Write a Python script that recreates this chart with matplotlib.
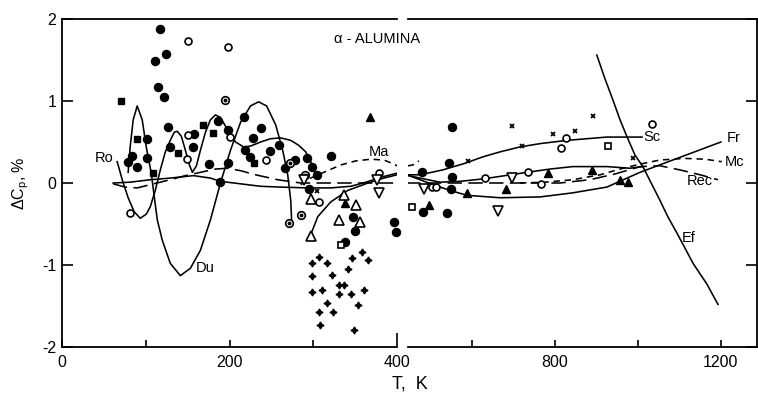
import numpy as np
import matplotlib
matplotlib.use("Agg")
import matplotlib.pyplot as plt
from matplotlib.ticker import FixedLocator, FixedFormatter

plt.rcParams['font.family'] = ['Liberation Sans', 'DejaVu Sans']

# measured points, T in K, deviation in %
fc_T = [117, 124, 111, 115, 122, 127, 101, 83, 79, 89, 102, 129, 158, 176, 186, 198, 198, 189, 156, 217,
        238, 228, 218, 225, 248, 259, 266, 278, 292, 298, 304, 295, 321, 347, 350, 338, 397, 399,
        552, 545, 480, 552, 549, 482, 540]
fc_dC = [1.88, 1.57, 1.49, 1.17, 1.05, 0.68, 0.54, 0.33, 0.26, 0.20, 0.30, 0.44, 0.60, 0.23, 0.76, 0.65, 0.24, 0.01, 0.44, 0.80,
         0.67, 0.55, 0.40, 0.32, 0.39, 0.46, 0.18, 0.28, 0.30, 0.20, 0.10, -0.07, 0.33, -0.41, -0.59, -0.72, -0.48, -0.60,
         0.68, 0.24, 0.13, 0.07, -0.07, -0.35, -0.37]

fs_T = [71, 90, 109, 139, 168, 180, 229]
fs_dC = [1.00, 0.54, 0.12, 0.37, 0.71, 0.61, 0.24]

oc_T = [150, 198, 151, 149, 200, 244, 307, 378, 81, 504, 513, 631, 735, 766, 827, 815, 1034]
oc_dC = [1.73, 1.66, 0.59, 0.29, 0.56, 0.28, -0.23, 0.12, -0.37, -0.05, -0.05, 0.06, 0.13, -0.01, 0.55, 0.43, 0.72]

cd_T = [195, 272, 290, 285, 271]
cd_dC = [1.01, 0.24, 0.10, -0.39, -0.49]

os_T = [333, 455, 928]
os_dC = [-0.75, -0.29, 0.45]

ft_T = [368, 338, 496, 588, 682, 783, 889, 957, 976]
ft_dC = [0.80, -0.24, -0.27, -0.12, -0.07, 0.12, 0.16, 0.04, 0.01]

otu_T = [297, 337, 351, 331, 356, 297]
otu_dC = [-0.20, -0.15, -0.27, -0.45, -0.48, -0.65]

otd_T = [289, 376, 378, 484, 696, 663]
otd_dC = [0.04, 0.04, -0.12, -0.07, 0.06, -0.34]

x_T = [304, 696, 590, 721, 795, 848, 892, 988]
x_dC = [-0.10, 0.70, 0.27, 0.45, 0.60, 0.63, 0.82, 0.30]

st_T = [307, 298, 316, 298, 322, 346, 358, 365, 341, 299, 311, 331, 337, 331, 345, 361, 317, 353, 307, 323, 308, 349]
st_dC = [-0.90, -0.98, -0.98, -1.13, -1.12, -0.91, -0.84, -0.94, -1.05, -1.33, -1.30, -1.24, -1.24, -1.35, -1.35, -1.30,
         -1.46, -1.49, -1.57, -1.57, -1.73, -1.79]

# smoothed curves of the various authors
du_T = [79, 81.4, 85, 89.8, 95.8, 100.6, 106.6, 110.2, 113.8, 119.8, 129.3, 141.3, 153.3, 165.3, 177.2, 189.2,
        201.2, 213.2, 225.1, 234.7, 244.3, 255.1, 263.5, 269.5, 273.1, 274.3]
du_dC = [0.13, 0.44, 0.77, 0.94, 0.77, 0.44, 0.12, -0.17, -0.45, -0.70, -0.98, -1.13, -1.04, -0.82, -0.45, 0.0,
         0.40, 0.74, 0.94, 0.99, 0.94, 0.71, 0.40, 0.10, -0.21, -0.48]

ro_T = [65.9, 71.9, 79.0, 86.2, 93.4, 100.6, 105.4, 111.4, 117.4, 123.4, 129.3, 134.1, 137.7, 142.5, 147.3, 152.1,
        155.7, 160.5, 165.3, 171.3, 177.2, 183.2, 189.2, 197.6, 207.2, 216.8, 225.1, 237.1, 249.1, 261.1, 273.1,
        282.6, 291.0, 297.0, 304.2]
ro_dC = [0.26, 0.04, -0.18, -0.35, -0.43, -0.38, -0.29, -0.09, 0.16, 0.38, 0.52, 0.62, 0.63, 0.57, 0.40, 0.22,
         0.13, 0.21, 0.40, 0.62, 0.77, 0.83, 0.80, 0.65, 0.50, 0.44, 0.45, 0.50, 0.54, 0.55, 0.52,
         0.46, 0.38, 0.26, 0.06]

sc_T = [61.1, 81.4, 105.4, 129.3, 156.9, 177.2, 189.2, 213.2, 237.1, 261.1, 293.4, 321.0, 344.9, 362.9, 380.8, 400,
        448, 475, 530, 583, 627, 668, 716, 764, 829, 925, 1010]
sc_dC = [0.0, 0.01, 0.04, 0.06, 0.09, 0.06, 0.02, -0.01, -0.04, -0.05, -0.06, -0.06, -0.04, 0.01, 0.07, 0.12,
         0.10, 0.10, 0.16, 0.24, 0.32, 0.38, 0.44, 0.48, 0.52, 0.56, 0.56]

mid_T = [448, 475, 523, 571, 627, 680, 733, 788, 843, 925, 981, 1012]
mid_dC = [0.09, 0.06, 0.01, 0.02, 0.05, 0.09, 0.13, 0.17, 0.20, 0.20, 0.18, 0.20]

fr_T = [297, 305.4, 321, 341.3, 365.3, 384.4, 400, 448, 475, 506, 547, 588, 668, 764, 843, 925, 1005, 1084, 1200]
fr_dC = [-0.63, -0.41, -0.23, -0.09, 0.0, 0.06, 0.10, 0.09, 0.04, -0.02, -0.09, -0.15, -0.18, -0.17, -0.12, -0.05,
         0.13, 0.28, 0.50]

ef_T = [901, 920, 940, 957, 974, 993, 1012, 1034, 1053, 1072, 1094, 1113, 1133, 1150, 1166, 1181, 1193]
ef_dC = [1.56, 1.28, 1.01, 0.77, 0.56, 0.34, 0.20, -0.02, -0.21, -0.41, -0.61, -0.79, -0.98, -1.11, -1.23, -1.37, -1.48]

ma_T = [285, 297, 312.6, 332.9, 350.9, 368.9, 384.4, 396.4, 400, 445.7, 457.8, 472.3]
ma_dC = [-0.02, 0.06, 0.13, 0.22, 0.27, 0.29, 0.28, 0.23, 0.21, 0.21, 0.22, 0.27]

rec_T = [61.1, 75.4, 89.8, 105.4, 129.3, 147.3, 165.3, 183.2, 197.6, 213.2, 231.1, 257.5, 285, 321, 400,
         445.7, 667.5, 812, 884, 945, 1005, 1053, 1101, 1150, 1193]
rec_dC = [-0.01, -0.05, -0.06, -0.02, 0.04, 0.09, 0.13, 0.17, 0.18, 0.15, 0.10, 0.04, 0.0, 0.0, 0.0,
          0.0, 0.0, 0.0, 0.04, 0.11, 0.20, 0.21, 0.16, 0.10, 0.04]

mc_T = [716, 776, 843, 909, 957, 1005, 1053, 1113, 1162, 1202]
mc_dC = [0.0, 0.01, 0.04, 0.10, 0.17, 0.23, 0.28, 0.30, 0.29, 0.26]

fig = plt.figure(figsize=(7.58, 3.96), dpi=100)
ax_lo = fig.add_axes([62 / 758, 49 / 396, 335 / 758, 328 / 396])
ax_hi = fig.add_axes([408 / 758, 49 / 396, 349 / 758, 328 / 396])

ax_lo.set_xlim(0, 400)
ax_hi.set_xlim(446, 1287)
for ax in (ax_lo, ax_hi):
    ax.set_ylim(-2, 2)
    for s in ax.spines.values():
        s.set_linewidth(1.3)

ax_lo.spines['right'].set_visible(False)
ax_hi.spines['left'].set_visible(False)


def curve(T, dC, **kw):
    for ax in (ax_lo, ax_hi):
        ax.plot(T, dC, color='black', lw=1.15, zorder=2, **kw)


def points(T, dC, **kw):
    T = np.asarray(T)
    dC = np.asarray(dC)
    lo = T <= 405
    ax_lo.plot(T[lo], dC[lo], ls='none', clip_on=False, zorder=3, **kw)
    ax_hi.plot(T[~lo], dC[~lo], ls='none', clip_on=False, zorder=3, **kw)


curve(du_T, du_dC)
curve(ro_T, ro_dC)
curve(sc_T, sc_dC)
curve(mid_T, mid_dC)
curve(fr_T, fr_dC)
curve(ef_T, ef_dC)
curve(ma_T, ma_dC, ls=(0, (4, 3)))
curve(mc_T, mc_dC, ls=(0, (4, 3)))
curve(rec_T, rec_dC, ls=(0, (9, 4)))

points(fc_T, fc_dC, marker='o', ms=5.8, color='black')
points(fs_T, fs_dC, marker='s', ms=5, color='black')
points(oc_T, oc_dC, marker='o', ms=5, mfc='white', mec='black', mew=1.2)
points(cd_T, cd_dC, marker='o', ms=5.5, mfc='white', mec='black', mew=1.2)
points(cd_T, cd_dC, marker='o', ms=1.8, color='black')
points(os_T, os_dC, marker='s', ms=4.5, mfc='white', mec='black', mew=1.2)
points(ft_T, ft_dC, marker='^', ms=6, color='black')
points(otu_T, otu_dC, marker='^', ms=6.5, mfc='white', mec='black', mew=1.2)
points(otd_T, otd_dC, marker='v', ms=6.5, mfc='white', mec='black', mew=1.2)
points(x_T, x_dC, marker='x', ms=3.5, color='black', mew=1.3)
points(st_T, st_dC, marker=(4, 1, 0), ms=5, color='black')

# curve labels
lab = dict(fontsize=10.5, ha='center', va='center')
ax_lo.text(50, 0.30, 'Ro', **lab)
ax_lo.text(171, -1.04, 'Du', **lab)
ax_lo.text(378, 0.38, 'Ma', **lab)
ax_hi.text(1033, 0.56, 'Sc', **lab)
ax_hi.text(1230, 0.55, 'Fr', **lab)
ax_hi.text(1234, 0.26, 'Mc', **lab)
ax_hi.text(1150, 0.02, 'Rec', **lab)
ax_hi.text(1122, -0.67, 'Ef', **lab)
fig.text(377 / 758, 1 - 39 / 396, 'α - ALUMINA', fontsize=10.5, ha='center', va='center')

yt = [-2, -1, 0, 1, 2]
ax_lo.yaxis.set_major_locator(FixedLocator(yt))
ax_lo.yaxis.set_major_formatter(FixedFormatter(['-2', '-1', '0', '1', '2']))
ax_lo.xaxis.set_major_locator(FixedLocator([0, 100, 200, 300, 400]))
ax_lo.xaxis.set_major_formatter(FixedFormatter(['0', '', '200', '', '400']))
ax_hi.yaxis.set_major_locator(FixedLocator(yt))
ax_hi.xaxis.set_major_locator(FixedLocator([600, 800, 1000, 1200]))
ax_hi.xaxis.set_major_formatter(FixedFormatter(['', '800', '', '1200']))

ax_lo.tick_params(axis='y', direction='in', length=8, width=1.2, labelsize=11.5, pad=4)
ax_lo.tick_params(axis='x', direction='in', length=5, width=1.2, labelsize=11.5, pad=6)
ax_hi.tick_params(axis='y', direction='in', length=8, width=1.2, left=False, right=True, labelleft=False)
ax_hi.tick_params(axis='x', direction='in', length=5, width=1.2, labelsize=11.5, pad=6)
# the 400 K mark at the axis break is drawn longer
ax_lo.xaxis.get_major_ticks()[-1].tick1line.set_markersize(10)

ax_lo.set_ylabel('ΔC$_\\mathregular{p}$, %', fontsize=11.5, labelpad=8)
fig.text(410 / 758, 1 - 384 / 396, 'T,  K', fontsize=13, ha='center', va='center')

fig.savefig('out.png', dpi=100)
